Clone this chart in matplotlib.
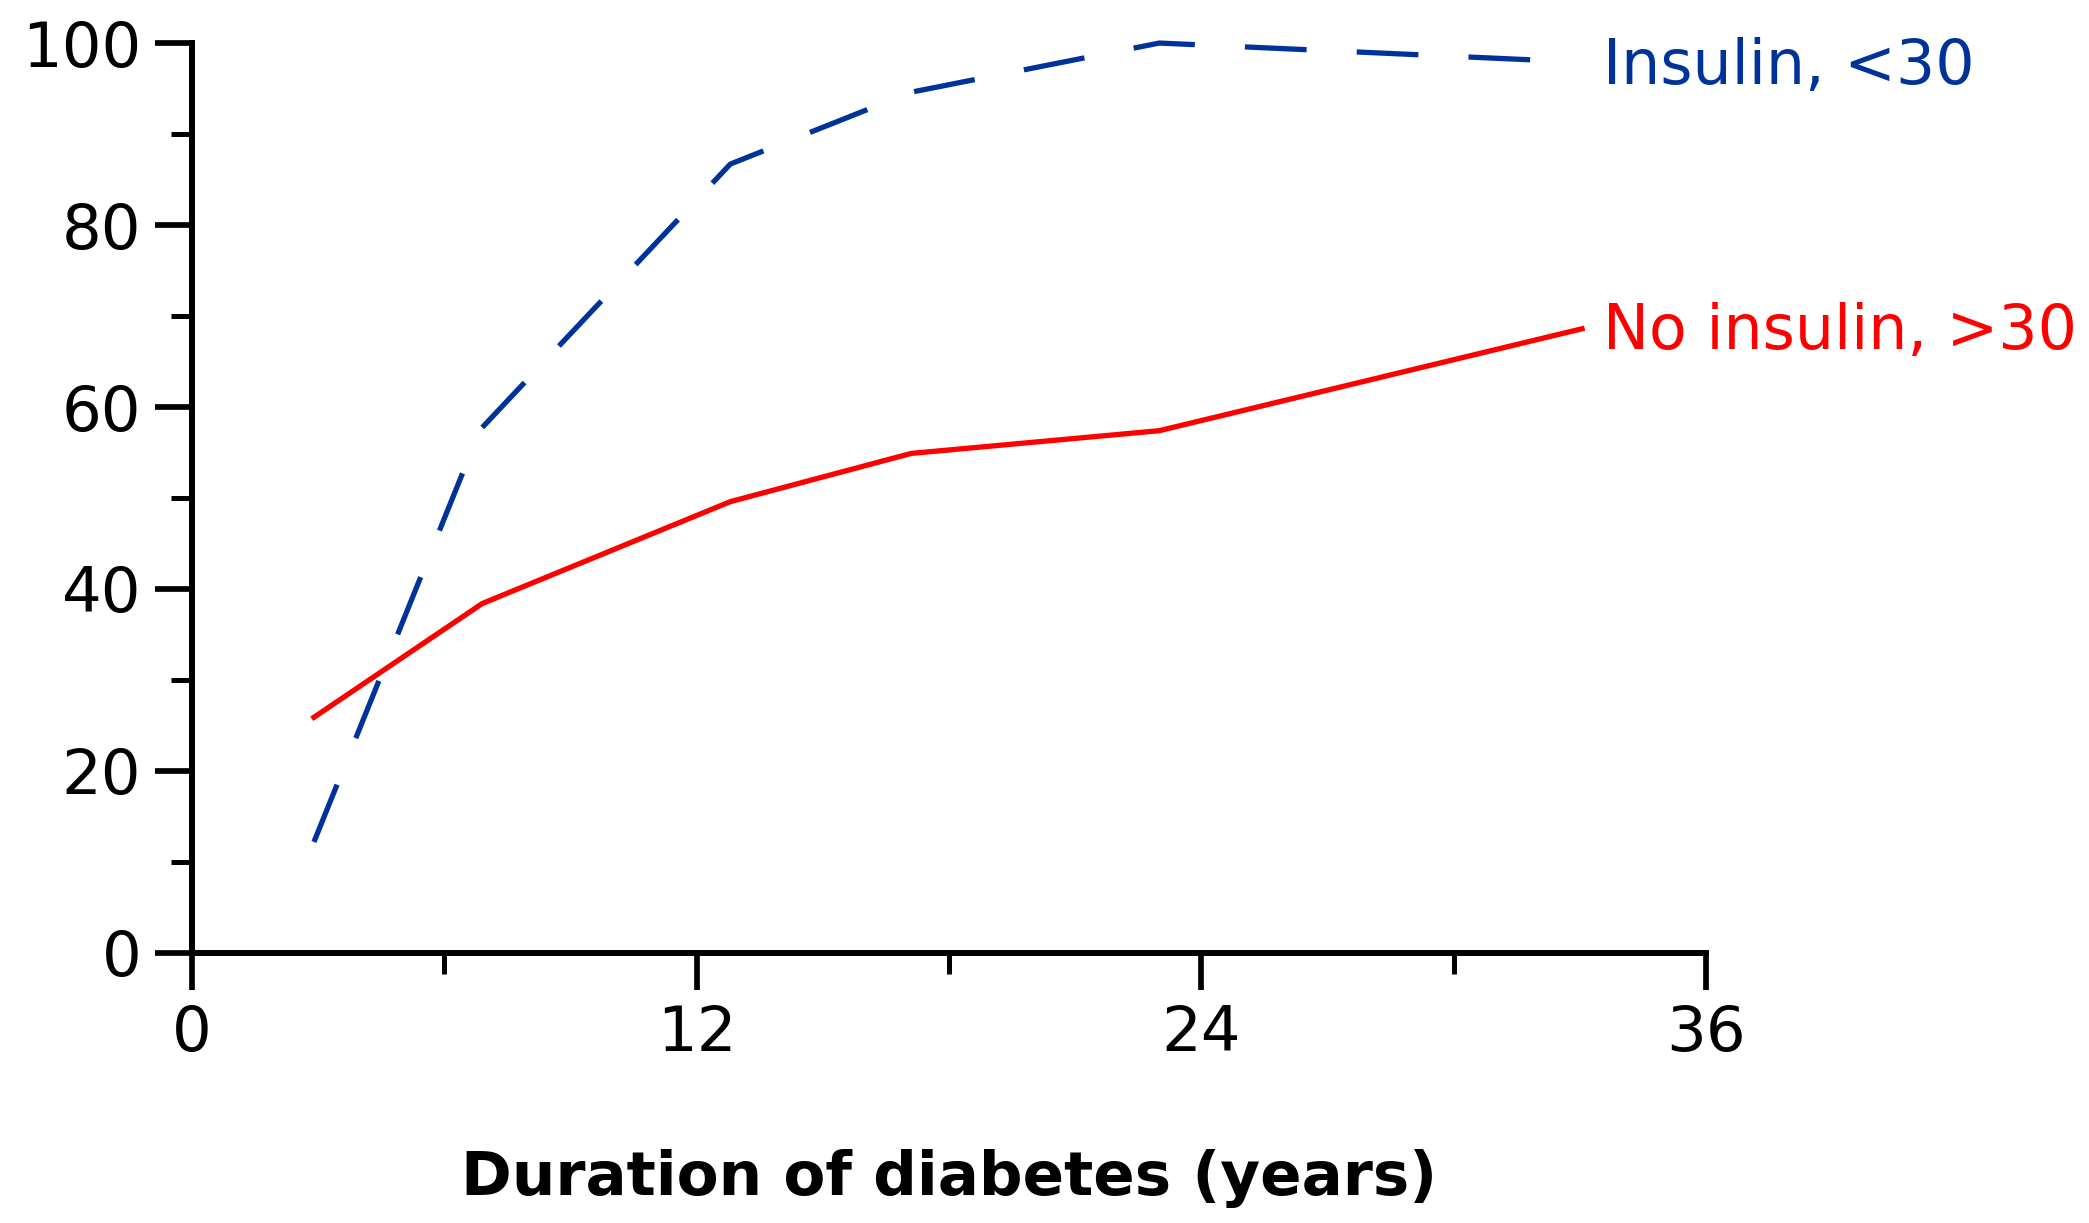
import matplotlib
matplotlib.use("Agg")
import matplotlib.pyplot as plt
from matplotlib.ticker import MultipleLocator

years_ins = [2.9, 6.85, 12.8, 17.1, 23.0, 32.1]
pct_ins = [12.2, 57.5, 86.7, 94.6, 100.0, 98.1]

years_noins = [2.9, 6.9, 12.8, 17.1, 23.0, 33.05]
pct_noins = [25.9, 38.4, 49.6, 54.9, 57.4, 68.6]

label_ins = "Insulin, <30"
label_noins = "No insulin, >30"
xlabel = "Duration of diabetes (years)"

blue = "#003399"
red = "#ff0000"

plt.rcParams['font.family'] = ['DejaVu Sans']

fig = plt.figure(figsize=(20.89, 12.23), dpi=100)
ax = fig.add_axes([0.0919, 0.2208, 0.7248, 0.744])

ax.plot(years_ins, pct_ins, color=blue, lw=3.8, dashes=[11.7, 9.5],
        dash_capstyle='butt', clip_on=False)
ax.plot(years_noins, pct_noins, color=red, lw=3.8, clip_on=False)

ax.text(33.55, pct_ins[-1] - 2.6, label_ins, color=blue,
        fontsize=44.5, va='baseline', ha='left', clip_on=False)
ax.text(years_noins[-1] + 0.5, pct_noins[-1] - 2.2, label_noins, color=red,
        fontsize=44.5, va='baseline', ha='left', clip_on=False)

ax.set_xlim(0, 36)
ax.set_ylim(0, 100)
ax.xaxis.set_major_locator(MultipleLocator(12))
ax.xaxis.set_minor_locator(MultipleLocator(6))
ax.yaxis.set_major_locator(MultipleLocator(20))
ax.yaxis.set_minor_locator(MultipleLocator(10))

for s in ['top', 'right']:
    ax.spines[s].set_visible(False)
for s in ['left', 'bottom']:
    ax.spines[s].set_linewidth(4.3)

ax.tick_params(which='major', length=26.5, width=4.1, labelsize=45, pad=10)
ax.tick_params(which='minor', length=15, width=3.6)

ax.set_xlabel(xlabel, fontsize=44, fontweight='bold', va='center')
ax.xaxis.set_label_coords(0.5, -0.248)

fig.savefig("out.png", dpi=100, facecolor='white')
